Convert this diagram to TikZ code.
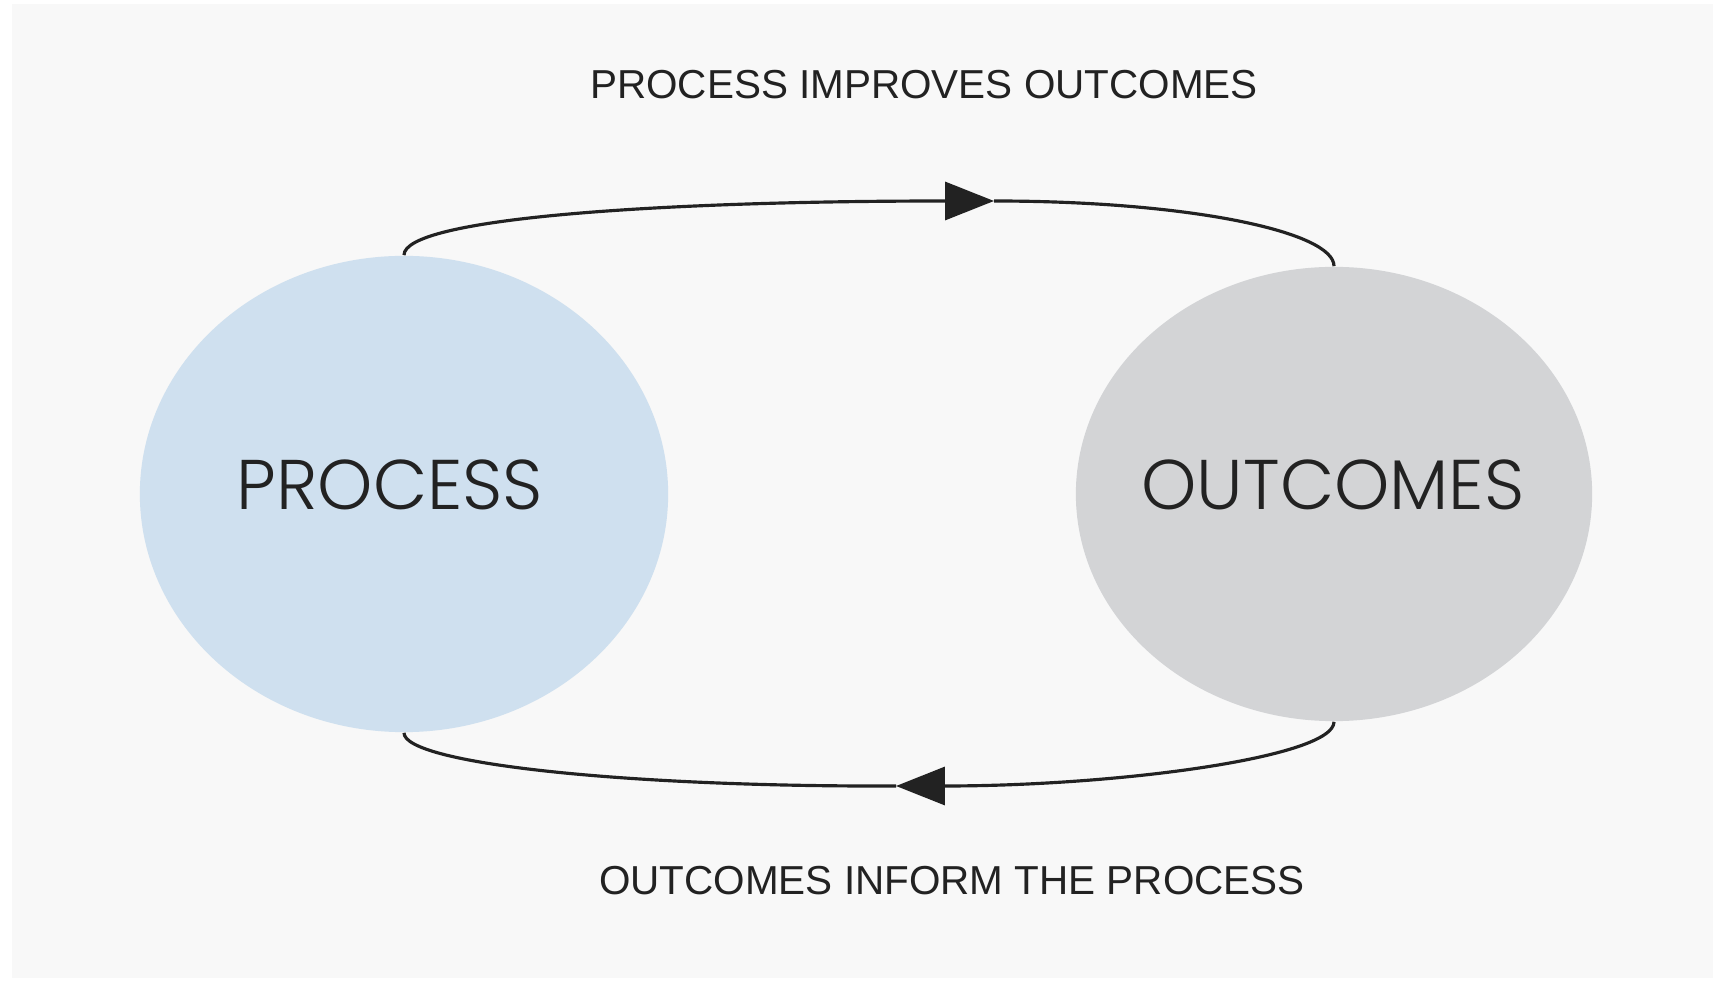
\documentclass[tikz,border=0pt]{standalone}
\usepackage{fontspec}
\setmainfont{Liberation Sans}
\newfontfamily\blobfont{Poppins Light}
\usepackage{tikz}
\usetikzlibrary{arrows.meta,positioning,shapes.geometric}
\definecolor{pagegrey}{HTML}{F8F8F8}
\definecolor{procblue}{HTML}{CFE0EF}
\definecolor{outgrey}{HTML}{D3D4D6}
\definecolor{inkgrey}{HTML}{222222}

\begin{document}
\begin{tikzpicture}[x=0.01cm, y=-0.01cm,
		blob/.style={ellipse, inner sep=0pt},
		biglabel/.style={font=\blobfont\fontsize{20}{24}\selectfont, text=inkgrey, inner sep=0pt},
		smalllabel/.style={font=\fontsize{11.5}{14}\selectfont, text=inkgrey, inner sep=0pt},
		loop/.style={line width=0.9pt, draw=inkgrey},
		tip/.style={-{Triangle[length=13.9pt, width=10.8pt]}}]
		% page
		\fill[white] (0,0) rectangle (1713,983);
		\fill[pagegrey] (12,4) rectangle (1713,978);
		
		\node[blob, fill=procblue, minimum width=5.28cm, minimum height=4.76cm]	(process)	at (404,494)	{};
		\node[blob, fill=outgrey, minimum width=5.16cm, minimum height=4.54cm]	(outcomes)	at (1334,494)	{};
		\node[biglabel]		(processtxt)	at (390,485)	{PROCESS};
		\node[biglabel]		(outcomestxt)	at (1333,485)	{OUTCOMES};
		
		\node[smalllabel]	(improves)		at (924,85)		{PROCESS IMPROVES OUTCOMES};
		\node[smalllabel]	(inform)		at (952,881)	{OUTCOMES INFORM THE PROCESS};
		
		\coordinate (toptip)	at (994,201);
		\coordinate (bottip)	at (896,786);
		
		\draw[loop, tip] (process.north) .. controls (404,218) and (660,201) .. (toptip);
		\draw[loop] (toptip) .. controls (1190,201) and (1334,232) .. (outcomes.north);
		\draw[loop, tip] (outcomes.south) .. controls (1334,757) and (1120,786) .. (bottip);
		\draw[loop] (bottip) .. controls (620,787) and (404,763) .. (process.south);
	\end{tikzpicture}
\end{document}
